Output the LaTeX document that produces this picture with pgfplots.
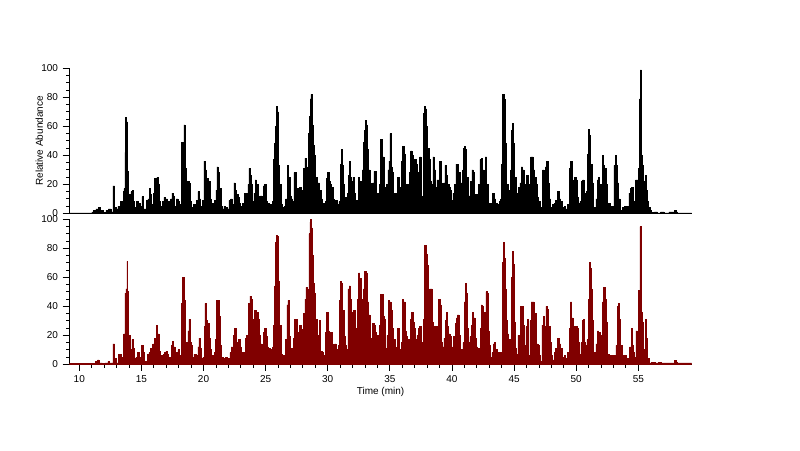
\documentclass[border=0pt]{standalone}
\usepackage{fontspec}
\setmainfont{Liberation Sans}
\usepackage{pgfplots}
\pgfplotsset{compat=1.18}
\definecolor{chromred}{RGB}{128,0,0}
\definecolor{marker}{RGB}{255,205,120}
\begin{document}
\begin{tikzpicture}
\path[use as bounding box] (0,0) rectangle (600pt,337.5pt);
\pgfplotsset{
  chrom/.style={
    scale only axis, width=466.8pt, height=108.75pt,
    xmin=9.2, xmax=59.3, ymin=0, ymax=100,
    axis x line*=bottom, axis y line*=left,
    ytick={0,20,...,100}, minor y tick num=3,
    tick align=outside, major tick length=5pt, minor tick length=2.5pt,
    every tick/.style={black, line width=0.6pt},
    axis line style={black, line width=0.75pt},
    tick label style={font=\fontsize{7.5}{9}\selectfont},
    label style={font=\fontsize{7.5}{9}\selectfont},
    /pgf/number format/assume math mode=true,
  }
}
\begin{axis}[chrom, at={(52pt,177.5pt)}, anchor=south west,
  xtick=\empty,
  ylabel={Relative Abundance},
  ylabel style={at={(axis description cs:-0.0482,0.5)}, anchor=center}]
\addplot[const plot mark mid, fill=black, draw=black, line width=0.4pt] coordinates {
(9.2,0.3)(10.98,0.3)(11.06,1)(11.25,2)(11.44,3)(11.60,4)(11.70,1)(11.86,2)(12.05,0.5)(12.24,2)(12.46,3)(12.62,1)(12.80,19)(12.88,4)(13.05,3)(13.15,5)(13.26,4)(13.37,8)(13.48,6)(13.56,15)(13.64,17)(13.69,42)(13.77,66)(13.85,63)(13.93,29)(14.01,13)(14.12,5)(14.20,15)(14.31,16)(14.41,8)(14.52,4)(14.66,8)(14.76,7)(14.87,7)(14.98,5)(15.09,11.5)(15.19,3)(15.30,3)(15.46,9)(15.57,10)(15.68,17)(15.78,13)(15.89,6)(16.00,14)(16.11,24)(16.21,20)(16.29,25)(16.37,20)(16.48,8)(16.62,5)(16.75,8)(16.88,11)(17.02,10)(17.15,8)(17.29,7)(17.42,10)(17.50,14)(17.61,12)(17.72,5)(17.88,10)(18.01,8)(18.15,6)(18.28,49)(18.39,49)(18.47,61)(18.55,31)(18.66,15)(18.76,22)(18.87,21)(18.98,8)(19.11,4)(19.25,6)(19.38,5)(19.49,9)(19.59,15)(19.70,10)(19.84,5)(19.97,9)(20.08,36)(20.19,30)(20.29,14)(20.37,24)(20.45,22)(20.56,10)(20.70,7)(20.83,5)(20.94,9)(21.04,16)(21.12,32)(21.23,28)(21.34,17)(21.45,5)(21.58,3)(21.71,5)(21.85,4)(21.98,3)(22.12,9)(22.25,10)(22.39,6)(22.49,21)(22.60,16)(22.71,13)(22.81,11)(22.92,7)(23.06,5)(23.19,7)(23.33,14)(23.43,14)(23.54,7)(23.62,20)(23.70,31)(23.81,26)(23.92,20)(24.00,8)(24.10,14)(24.21,23)(24.32,20)(24.43,12)(24.53,11)(24.64,12)(24.75,9)(24.85,19)(24.96,20)(25.07,8)(25.20,7)(25.34,5)(25.47,6)(25.61,8)(25.69,37)(25.77,48)(25.85,60)(25.93,74)(26.01,70)(26.09,33)(26.17,20)(26.28,6)(26.41,4)(26.55,5)(26.68,10)(26.79,33)(26.89,25)(27.00,12)(27.11,10)(27.22,8)(27.32,28)(27.43,28)(27.54,17)(27.67,6)(27.78,18)(27.89,16)(28.00,10)(28.10,31)(28.21,38)(28.32,28)(28.43,32)(28.51,55)(28.56,67)(28.61,79)(28.69,82)(28.77,61)(28.85,47)(28.96,40)(29.07,25)(29.18,18)(29.28,21)(29.39,16)(29.50,10)(29.63,7)(29.77,5)(29.87,8)(29.95,24)(30.03,28)(30.14,22)(30.25,20)(30.36,18)(30.46,10)(30.57,8)(30.71,9)(30.84,6)(30.95,8)(31.03,34)(31.11,44)(31.19,33)(31.30,20)(31.40,11)(31.51,10)(31.62,14)(31.70,26)(31.78,36)(31.86,25)(31.97,22)(32.08,25)(32.18,14)(32.29,9)(32.40,8)(32.50,25)(32.61,22)(32.72,14)(32.83,30)(32.91,49)(32.99,57)(33.07,64)(33.15,61)(33.23,44)(33.34,30)(33.44,21)(33.55,17)(33.66,21)(33.77,29)(33.87,29)(33.98,14)(34.09,8)(34.19,20)(34.28,51)(34.36,51)(34.46,39)(34.57,18)(34.68,7)(34.79,20)(34.89,30)(34.97,36)(35.05,55)(35.13,32)(35.24,28)(35.35,14)(35.46,11)(35.56,14)(35.67,25)(35.78,12)(35.89,18)(35.99,36)(36.07,46)(36.18,41)(36.29,18)(36.40,20)(36.50,15)(36.61,28)(36.72,43)(36.82,40)(36.93,29)(37.04,37)(37.15,34)(37.26,14)(37.36,28)(37.44,39)(37.55,12)(37.66,8)(37.76,69)(37.85,74)(37.93,72)(38.01,60)(38.09,45)(38.19,37)(38.30,22)(38.41,20)(38.52,39)(38.62,30)(38.73,18)(38.84,23)(38.95,23)(39.05,36)(39.16,21)(39.27,20)(39.37,21)(39.48,33)(39.59,26)(39.70,20)(39.80,18)(39.91,16)(40.02,9)(40.12,14)(40.26,20)(40.37,34)(40.48,34)(40.58,28)(40.69,10)(40.80,21)(40.90,30)(40.99,45)(41.07,46)(41.15,44)(41.23,25)(41.33,11)(41.44,12)(41.55,22)(41.66,30)(41.76,28)(41.87,13)(41.98,12)(42.09,13)(42.19,20)(42.30,37)(42.41,38)(42.52,30)(42.62,25)(42.73,39)(42.84,20)(42.94,7)(43.05,6)(43.19,7)(43.32,14)(43.45,10)(43.59,7)(43.72,6)(43.86,8)(43.96,10)(44.04,34)(44.13,82)(44.21,79)(44.29,70)(44.37,48)(44.45,20)(44.55,16)(44.66,9)(44.77,30)(44.85,57)(44.93,62)(45.01,48)(45.09,25)(45.20,14)(45.31,7)(45.41,18)(45.52,21)(45.63,32)(45.74,30)(45.84,9)(45.95,20)(46.06,26)(46.17,20)(46.27,14)(46.38,39)(46.49,39)(46.59,30)(46.70,25)(46.81,20)(46.92,11)(47.02,8)(47.13,3)(47.24,4)(47.35,30)(47.45,18)(47.56,32)(47.67,36)(47.78,21)(47.88,10)(48.02,4)(48.15,6)(48.29,7)(48.42,9)(48.55,15)(48.69,10)(48.82,8)(48.96,4)(49.09,5)(49.22,3)(49.36,6)(49.49,31)(49.60,36)(49.71,23)(49.82,22)(49.92,25)(50.03,23)(50.14,11)(50.24,7)(50.35,8)(50.46,22)(50.57,23)(50.67,14)(50.78,12)(50.89,15)(50.97,41)(51.05,58)(51.13,54)(51.21,34)(51.32,21)(51.43,3)(51.53,4)(51.64,10)(51.72,23)(51.83,25)(51.94,20)(52.04,13)(52.12,40)(52.23,33)(52.34,31)(52.45,20)(52.55,6)(52.66,7)(52.77,5)(52.87,5)(52.98,5)(53.09,33)(53.17,40)(53.25,33)(53.36,21)(53.47,10)(53.57,2)(53.68,2)(53.79,4)(53.92,5)(54.06,4)(54.19,5)(54.30,14)(54.40,17)(54.51,18)(54.62,6)(54.73,8)(54.83,23)(54.94,23)(55.05,31)(55.13,79)(55.21,99)(55.29,40)(55.37,33)(55.45,22)(55.53,13)(55.61,26)(55.69,16)(55.77,8)(55.88,4)(55.99,2)(56.10,0.5)(56.47,1)(56.58,0.3)(57.01,1)(57.12,0.3)(57.81,1)(57.95,2)(58.08,1)(58.22,0.3)(59.3,0.3)
} \closedcycle;
\draw[marker, line width=0.75pt, dash pattern=on 5pt off 8pt] (axis cs:59.38,100) -- (axis cs:59.38,50);
\end{axis}
\begin{axis}[chrom, at={(52pt,64.3pt)}, anchor=south west,
  xtick={10,15,...,55}, minor x tick num=4,
  xlabel={Time (min)},
  xlabel style={at={(axis description cs:0.5,0)}, anchor=center, yshift=-20.5pt}]
\addplot[const plot mark mid, fill=chromred, draw=chromred, line width=0.4pt] coordinates {
(9.2,0.5)(11.25,0.5)(11.33,2)(11.44,2)(11.52,3)(11.65,1)(11.78,1)(11.92,0.5)(12.24,1)(12.35,2)(12.46,1)(12.62,1)(12.80,14)(12.91,4)(13.05,1)(13.21,7)(13.31,7)(13.42,2)(13.53,5)(13.63,21)(13.72,49)(13.80,52)(13.85,71)(13.93,50)(14.01,20)(14.12,4)(14.20,10)(14.28,17)(14.39,11)(14.50,4)(14.60,5)(14.74,8)(14.87,5)(14.95,5)(15.06,13)(15.17,8)(15.27,2)(15.41,2)(15.54,7)(15.65,8)(15.76,11)(15.86,5)(15.97,14)(16.08,18)(16.19,14)(16.27,27)(16.35,21)(16.45,9)(16.56,4)(16.70,6)(16.80,7)(16.91,8)(17.02,9)(17.13,7)(17.23,5)(17.34,4)(17.45,13)(17.55,16)(17.66,12)(17.77,4)(17.88,8)(17.98,10)(18.09,6)(18.20,4)(18.28,42)(18.36,60)(18.44,60)(18.52,44)(18.60,15)(18.71,14)(18.79,23)(18.87,31)(18.95,15)(19.06,13)(19.17,5)(19.27,7)(19.38,7)(19.49,6)(19.59,12)(19.68,18)(19.78,11)(19.89,4)(20.00,5)(20.08,26)(20.16,42)(20.24,30)(20.32,24)(20.40,28)(20.48,18)(20.59,10)(20.70,6)(20.80,5)(20.91,8)(21.02,17)(21.10,44)(21.21,44)(21.31,33)(21.39,13)(21.50,5)(21.61,3)(21.71,4)(21.82,5)(21.96,4)(22.06,4)(22.17,8)(22.28,12)(22.39,9)(22.47,20)(22.55,25)(22.65,15)(22.76,14)(22.87,17)(22.98,12)(23.08,7)(23.19,8)(23.30,7)(23.41,18)(23.51,20)(23.59,18)(23.67,42)(23.78,47)(23.89,45)(23.97,31)(24.08,14)(24.16,37)(24.24,37)(24.32,36)(24.43,31)(24.53,20)(24.64,14)(24.75,10)(24.85,22)(24.96,25)(25.07,19)(25.18,12)(25.28,11)(25.39,10)(25.50,9)(25.61,12)(25.69,27)(25.77,54)(25.85,84)(25.93,89)(26.01,88)(26.09,57)(26.17,27)(26.28,7)(26.41,6)(26.55,6)(26.68,17)(26.76,41)(26.84,44)(26.95,19)(27.06,11)(27.16,11)(27.27,18)(27.38,31)(27.49,31)(27.57,22)(27.67,11)(27.78,27)(27.89,24)(28.00,18)(28.10,35)(28.21,45)(28.29,53)(28.37,52)(28.45,37)(28.53,90)(28.59,98)(28.64,100)(28.72,94)(28.80,75)(28.88,56)(28.99,49)(29.07,31)(29.18,17)(29.28,20)(29.36,30)(29.47,9)(29.61,8)(29.74,6)(29.85,22)(29.95,36)(30.06,23)(30.17,18)(30.28,22)(30.38,14)(30.49,10)(30.60,14)(30.71,10)(30.81,8)(30.89,13)(30.97,44)(31.05,57)(31.16,56)(31.24,37)(31.35,19)(31.46,13)(31.56,10)(31.67,52)(31.78,54)(31.86,45)(31.97,32)(32.05,36)(32.13,37)(32.24,25)(32.34,18)(32.45,45)(32.53,63)(32.61,59)(32.72,34)(32.83,45)(32.91,52)(33.01,64)(33.12,63)(33.23,43)(33.34,34)(33.44,10)(33.55,18)(33.66,28)(33.77,27)(33.87,22)(33.98,20)(34.09,6)(34.19,27)(34.28,48)(34.38,48)(34.49,33)(34.60,31)(34.71,11)(34.81,20)(34.92,44)(35.03,43)(35.13,37)(35.24,25)(35.35,17)(35.46,12)(35.56,10)(35.67,25)(35.78,10)(35.89,8)(35.99,15)(36.07,45)(36.15,43)(36.26,23)(36.37,19)(36.48,17)(36.58,12)(36.69,31)(36.80,36)(36.91,29)(37.01,25)(37.12,17)(37.23,20)(37.33,25)(37.44,26)(37.55,15)(37.66,8)(37.76,31)(37.85,82)(37.93,82)(38.01,76)(38.09,68)(38.17,29)(38.25,52)(38.36,52)(38.44,29)(38.54,8)(38.65,26)(38.76,26)(38.86,22)(38.97,45)(39.08,41)(39.19,15)(39.29,12)(39.40,18)(39.51,30)(39.59,36)(39.67,26)(39.78,21)(39.88,19)(39.99,12)(40.10,10)(40.18,19)(40.23,18)(40.31,28)(40.39,32)(40.50,34)(40.61,20)(40.72,6)(40.82,10)(40.93,15)(41.04,43)(41.12,56)(41.23,49)(41.31,25)(41.39,15)(41.50,19)(41.60,27)(41.71,36)(41.79,32)(41.90,18)(42.01,12)(42.11,11)(42.22,11)(42.30,25)(42.38,41)(42.46,40)(42.57,26)(42.68,36)(42.78,50)(42.86,49)(42.94,23)(43.05,13)(43.16,5)(43.27,8)(43.35,14)(43.45,15)(43.56,10)(43.67,7)(43.78,8)(43.88,8)(43.99,8)(44.07,70)(44.15,84)(44.23,73)(44.31,52)(44.42,30)(44.53,21)(44.61,17)(44.72,10)(44.80,60)(44.88,78)(44.96,69)(45.04,29)(45.15,11)(45.25,7)(45.36,20)(45.47,20)(45.57,40)(45.68,40)(45.79,27)(45.90,13)(46.00,26)(46.11,31)(46.22,6)(46.33,30)(46.43,43)(46.54,43)(46.65,32)(46.76,35)(46.86,14)(46.97,13)(47.08,6)(47.19,2)(47.29,27)(47.40,33)(47.51,26)(47.61,40)(47.72,38)(47.83,26)(47.94,15)(48.04,6)(48.15,3)(48.29,8)(48.42,11)(48.55,18)(48.69,14)(48.82,11)(48.96,5)(49.09,6)(49.22,4)(49.36,8)(49.49,25)(49.57,43)(49.68,32)(49.79,23)(49.90,26)(50.00,26)(50.11,25)(50.22,15)(50.33,7)(50.43,15)(50.51,30)(50.59,31)(50.70,15)(50.81,13)(50.92,17)(51.00,45)(51.08,70)(51.16,66)(51.24,52)(51.32,30)(51.43,8)(51.53,8)(51.64,14)(51.75,23)(51.85,22)(51.96,20)(52.07,19)(52.15,43)(52.26,53)(52.34,45)(52.45,29)(52.55,7)(52.66,7)(52.71,6)(52.93,6)(53.12,6)(53.25,13)(53.33,40)(53.41,42)(53.52,31)(53.63,13)(53.73,3)(53.87,6)(53.98,6)(54.11,4)(54.24,4)(54.38,12)(54.46,25)(54.54,13)(54.65,8)(54.75,5)(54.86,23)(54.97,20)(55.08,51)(55.16,95)(55.24,36)(55.34,29)(55.45,10)(55.53,7)(55.61,31)(55.69,18)(55.80,4)(55.93,1)(56.20,1.5)(56.47,1)(56.74,1.5)(57.01,1)(57.81,1)(57.95,2.5)(58.08,1.5)(58.22,1)(59.3,1)
} \closedcycle;
\draw[marker, line width=0.75pt, dash pattern=on 5pt off 8pt] (axis cs:59.38,100) -- (axis cs:59.38,50);
\end{axis}
\end{tikzpicture}
\end{document}
